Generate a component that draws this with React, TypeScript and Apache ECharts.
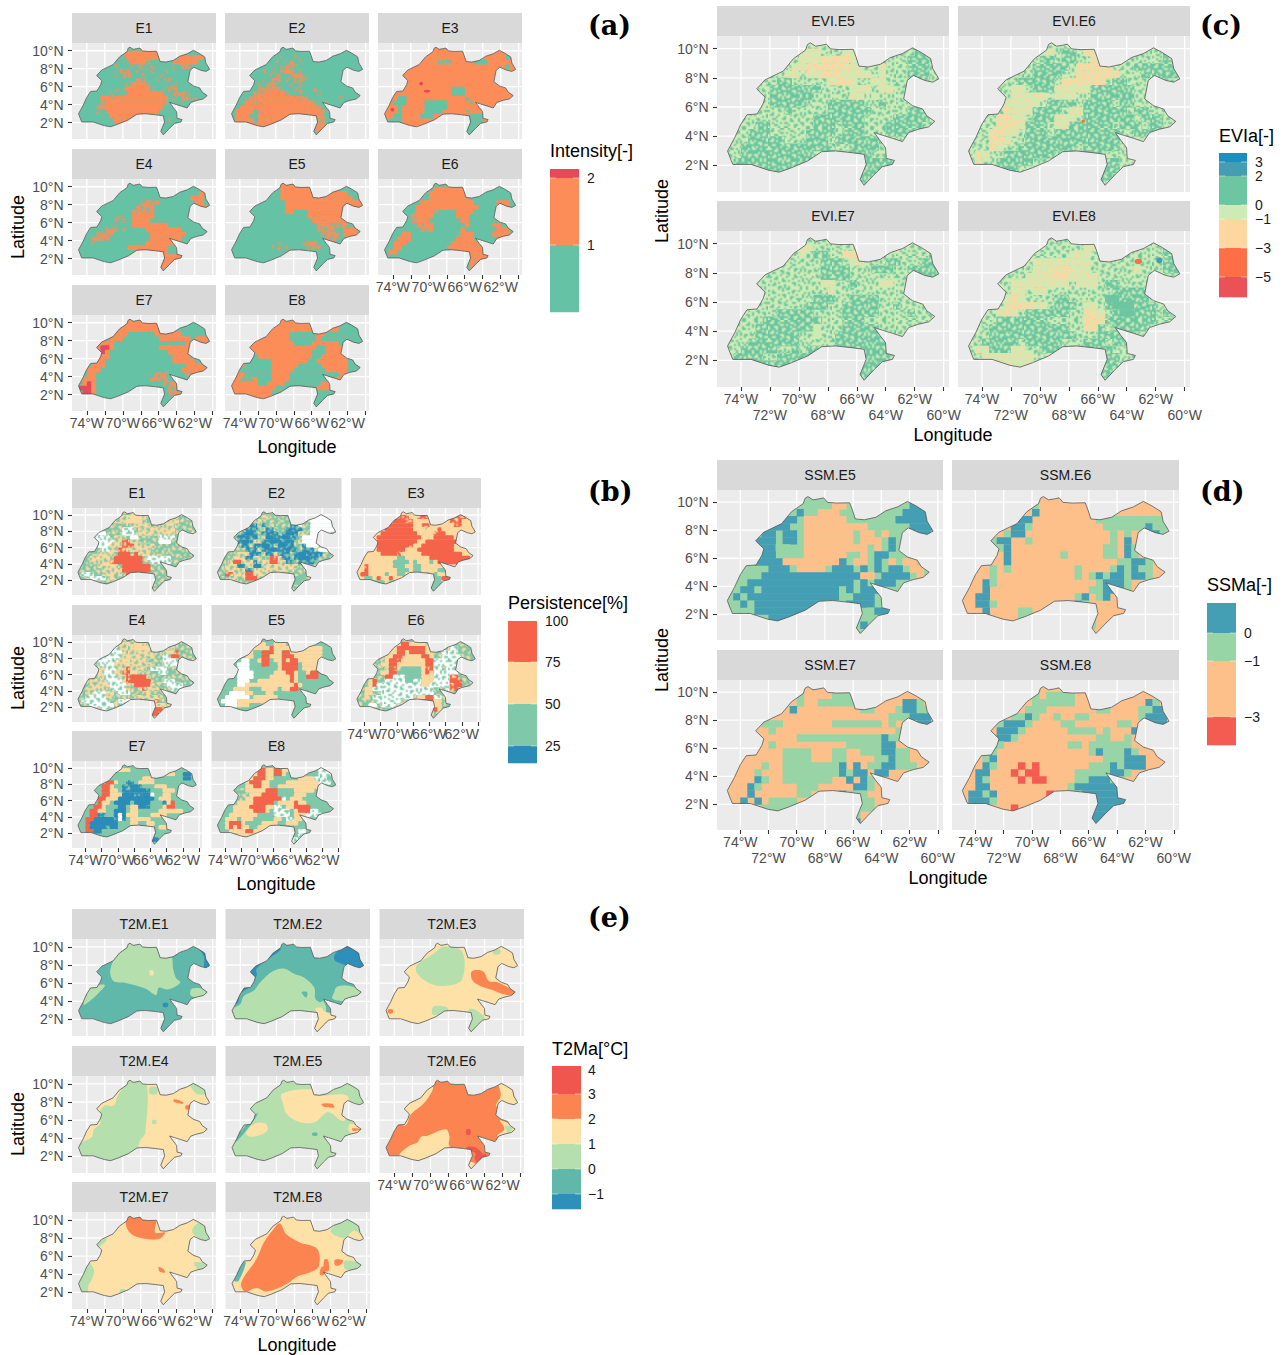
import React, { useEffect, useRef } from "react";
import * as echarts from "echarts";

const SANS = "Liberation Sans";
const LON_RANGE = [-75.65, -59.63];
const LAT_RANGE = [0.18, 10.86];
const LON_TICKS = [-74, -72, -70, -68, -66, -64, -62, -60];
const LON_LABELS_SPARSE = [-74, -70, -66, -62];
const LON_LOWER_ROW = [-72, -68, -64, -60];
const LAT_TICKS = [2, 4, 6, 8, 10];

const OUTLINE = [-69.4,10.28,-69.2,10.39,-68.84,10.16,-68.42,10.23,-68.09,10.3,-67.81,9.98,-67.17,9.93,-66.25,9.95,-66.05,9.43,-65.85,8.8,-65.21,8.74,-64.38,8.92,-63.68,9.38,-62.84,9.66,-62.15,10.05,-61.53,9.72,-60.89,9.31,-60.75,8.62,-60.33,7.93,-60.75,7.7,-61.31,7.82,-62.09,8.16,-62.51,7.82,-62.76,6.55,-62.15,6.09,-61.45,5.86,-61.17,5.4,-60.61,5.01,-61.03,4.64,-61.73,4.48,-62.42,4.25,-62.84,3.63,-63.54,3.86,-64.24,4.07,-64.79,4.25,-64.38,3.68,-64.01,3.22,-63.96,2.48,-63.4,2.34,-63.54,2.07,-64.24,1.91,-64.79,1.38,-65.49,0.64,-65.77,1.03,-65.35,2.07,-65.49,2.76,-66.33,2.87,-67.45,2.99,-68.42,2.94,-69.4,2.3,-70.51,1.84,-71.35,1.54,-72.05,1.66,-73.3,2.07,-74.56,2.07,-74.75,2.53,-74.92,2.99,-74.42,3.91,-74,4.83,-73.58,5.47,-72.88,5.52,-72.47,6.21,-72.33,6.67,-72.91,7.24,-72.33,7.86,-71.07,8.46,-70.37,9.31,-69.54,9.89];

// speckle tile, hand-typed
const TILE = [
"..#...##..#....#",".##..#.....##...","......##.#...#..","#..##......#...#",
"#...#..##...##..","..#....#...#....",".##.#.....#..##.","......##.....#..",
"..##...#.##....#","#.....#...#..#..","##..#....#...##.","...##..#....#...",
".#.....##.#....#","...#.#......##..","#.##....#....#.#",".....##.#.#.....",
];

const PAL_A: any = { G:"#66C2A5", O:"#FC8D59", R:"#E6495A", o:["#FC8D59","#66C2A5"], g:["#66C2A5","#FC8D59"] };
const PAL_B: any = { G:"#7FC8A9", P:"#FDD9A0", R:"#F4634A", B:"#2B8CB8", W:"#FFFFFF", g:["#7FC8A9","#FDD9A0"], p:["#FDD9A0","#7FC8A9"], r:["#F4634A","#FDD9A0"], b:["#2B8CB8","#7FC8A9"], w:["#FFFFFF","#7FC8A9"] };
const PAL_C: any = { G:"#6CC6A1", L:"#CDEBB5", P:"#FED6A0", g:["#6CC6A1","#CDEBB5"], l:["#CDEBB5","#6CC6A1"], p:["#FED6A0","#CDEBB5"], m:["#CDEBB5","#FED6A0"], R:"#FF6F47", T:"#459DB4" };
const PAL_D: any = { T:"#449FB5", G:"#97D5A6", P:"#FEC08B", R:"#F45B51" };
const PAL_E: any = { D:"#2E8FBB", T:"#5FB8A9", L:"#B5E0AE", P:"#FEE1A6", O:"#FC8450", R:"#F0564E" };

// ---- (a) Intensity rasters: 0.5 degree cells, row 0 = 10.5N, col 0 = 75W
const A_E1 = ["","..........OOOOOOOO","..........oOOOOOOo....OOOOOO","...........oOOOo.....oOOOOo","........g..g.gg.gg...g.oo",".........oog.g.gg..g.....g","........g.oo..g...g","...........g.oo..g.gg","..........goOOOo....gg","........g.oOOOOOg..ggo",".......g..gOOOOOOOO.gooog",".....OOoOOOOOOOOOOOO.g.oogg",".....oOOOOOOOOOOOOOo...g","....ooOOOOOOOOOOOOO","....g.oOOOOOOOOOOO",".......OOOOOOOOOO","........OOO.........g"];
const A_E2 = ["","","...........g..g","..........g.go.g",".........g.goog",".......g.g.oOo.g","........g.o..oOog",".......g.oo.g.oog","......g.oog..g.g","......oooOog..gg..gg",".....ooOOOOOgg.g...g","....oOOOOOOOOOOoo.......g","...OOoOOOOOOOOOOOOo..g","..OOOOOOOOOOOOOOOOOo",".OOOO.oOOOOOOOOOOOOOo",".OOO..OOOOOOOOOOOOOOo",".OOOO.OOOOOOOOOOOOOoo","...OOOOOOOOOOOOOOOoOo","..................oO"];
const A_E3 = ["","","...........................GG","............ggg.....GGG","...........................G","","","","","...............GGG","...............GGG","...GG.............g","..GGG....GGGGG.....g","...G.....GGGGG","...G.....GGGG.....g","..GG....GGG........GGG",".GGG..............GGGG","...................GG","..................GGG","..................GG"];
const A_E4 = ["","","...........................OO",".........................OOO","..............oooo........OO",".............oooo..........OO","............ooooo","........gg..OOOOO","........ggg.OOOO","........g...OOOOOOOO","......ooo.g....OOOOOOOO","....oooo........OOOOOOOO","...oooo.........OOOOOOO","...g...........OOOOOOO","...........OOOOOOOOO",".............OOOOOOO","..................OOOOO","...................OOOO","..................OOO","..................O"];
const A_E5 = ["...........OOOO","...........OOOOOOO","...........OOOOOOO....OOOO","...........OOOOOOOOOOOOOOOO","............OOOOOOOOOOOOOOOOO","............OOOOOOOOOOOOOOOOO","............OO...OOOOOOOOO",".................OOOOOOOOO","..................OOOOOOOO","...................ooooooo","...................oooo..OOOO","....................oooo.OOO",".....................ooo..OO","..........g.....ooo",".........gggg....ooo"];
const A_E6 = ["","...........OOOOOOO","..........OOOOOOOO","..........OOOOOOOOO","........OOOOOOOOOOOO.....OOO",".......OOOOOOOOOOOOOO.....OO",".......OOOOo....OOOO","......oOOOO.....OOO","......oOOO.......OO",".......ooOO.......O.....oO","........ooO......O.......OOO","....OO...........OOO....OOOO","...OOO..........OOOO.....OO","..OOO..........OOOOOO","..OO..........oOOOOOOO",".OO..............OOOOOO","...................OOOO","...................OoOO","...................OO"];
const A_E7 = ["...........OOO","..........OOOOOOOO",".........OOOOOOOOO",".......OOOO......OOOOOO",".......OOO........OOOOOOO.OOO","....OOOO................OO..OO","....ORRO..........OOOOOOO","....ORO.............OOOOO","....OOO..............OOOO","...OOO...............OOOOO","...OOO..................OOOO","..OOO..................OOOOOO","..OO...........g.ooo....oo",".OOO............oooo",".ORO...............ooo","RRRO................oo",".RRO................ooo"];
const A_E8 = ["","........................GGGGG","........................GGGGG",".............GGGGGG..GGGGGGGG",".............GGGGGG.GGGGGGGGG","..............GGGG......GGGGGGG","...................GG.....GGGG","..................GGG.....GG",".....G............GG......G","....GGGGG........GG.......GG","...GGGGGG......GGGGG......GGGG","..GGGGGGG.....GGGGGGG.....GGGG","...GGGGGG....GGGGGGGGGGG","..ggg.GGG....GGGGGGGGGG","......GG....GGGGGGGG","..........GGGGGGGGG",".........GG.......GGGGG","..................GGGGG","..................GGG","..................GG"];

// ---- (b) Persistence rasters
const B_E1 = ["","..........pppPPPp","........ppppPPPPp...ppppp","........gg...ppppp..pppp",".......ggg.www.ppppppppp",".....WW....www.ppppppppp","....wwww.ppp.WW.....wwww","....wwwwwpprrpp.....WWW",".....wwwppprrrppppp","......wwpprrpppppp",".....pppp.RRR.Rpppp","...ppppp.RRRRRRR.wwwwww","...ppppprRRRRRRR..wwwww",".....ppppp.RRRRRRR","......pppppRRRRRRR",".www...pppp.RRRRR","...wwww.pp"];
const B_E2 = ["","...........pp..........WWWWWW",".........pp.......bb...WWWWWW","........bbpb.p....bbw..WWWWWW",".......bbb.pbbp..bbbb..WWWWWW","......bBBb.bbbb.bBBbpp.WWWWW",".....bbBbb.pBBbbBBbb.WWWW",".....bBBbppbbBBbbBb.pWWWW","......bbpbbBBbpBBbb..bWWW",".......bbbpbbBBbbBbb.bbb.WWW",".....pppbbbpbbpbbb.bBBbbbb","....pppbbpp.pRrpbb.bBBBbb","...pRRpppbpppRRppbb.bbbb","..pppbbppBBppppppppp","..pppppbbpppppppppp","..rrpp.RRppppppppG","...pp..RRRp........GG","...........P......GGG"];
const B_E3 = ["","..........rrrPPrrr.....rrrr",".........RRRrrPPPP....PrrrP","........RRRRRRPPrr..PPPPrrP",".......RRRRRRRPPPpP.RPPPPPP","......RRRRRRRRRPPPPrRRPPPPP",".....RRRRRRRRRRRPPPRRRRRPPP",".....RRRRRRRRRRPPRRRRRRRR",".....RRRRRRRRrPPRRRRRRRR",".....RRRRRRRPPPRRRRRRRRR","....PPRRRRrPPPPPRRRRRRRRRR","...PPPPPPPGGPPPPPPRRRRRRRRRR","...PPPPPPGGGGPGPPPGPRRRRRRRRR","..rPPPPPPGGGPPGGPPPPPP","..RPPPPPPPGGGPGGPPPPGGP",".RRPPPPGPPGGPPPGPGPGP","..GGPRPPRPPPPRPPPPGGGRR","...GGGGPGGGGGGGGGGGGG","..................GGG","..................GG"];
const B_E4 = ["",".........pppppPPp",".......wwwppppPPPP.....p","......wwwwwpppppppp..pppr",".....wwwwwwpPpppppp..wwRR",".....wwwwwppPpppp....wwwwR",".....wwwwpppppppppp..wwww","....wppwwwpprpppp.wwww","....ppwwwpprrpp.....ww",".....ppwwwpprRRRRp","...ppppwwwwprRRRRR...www","...pppppwwwwp.RRRRp...wwww","..ppppp.wwwwp..prppp...www","..ppwwwpp.www...pp","..wwwwwpp.....ppppppp",".wwwwwww..wwwwpppppr","...wwwwww..........ppp","......ww...........RRr","..................RR"];
const B_E5 = ["","..........PP..PPP","........PPPPPRPPPPP...PPPP",".......PPGGRRRPPRRPPPPPPPP",".......PP.GRRPPPRRRPPPPPPP","......WW..PRRGPPRPRRPPPPPP",".....WWW...RRGGPRRRRGPPPP",".....WWW....GGGPRRRRGPPPP",".....WWWW...GGPPPRRPGGPRR",".....WWWW....PPPPPRPGGRRR",".....WWW..PPPPPPPPRPGG",".....WWPPPPPPPPPPPPRP","....PPPPGGGPPPPGPPRR","...WWWWPPGGGPPGGG","..WWWWWW.PPPPPPG",".WWWWPPPPPPPP","..WWWPPPGGG","......GG"];
const B_E6 = ["","..........PRRPPPP",".........PRRRRRRRP.....ww","........PPRRPRRRRPP..wwww",".......PPRRrPPPPRRP..wwwww","......pPRRrPPPPPPRRwwwwwww","......pPRRPPPPPPPRRwwwwww",".......pRrpGGGGGPrRww.wwww","......PPRRGGGGGGPrPwwwwww",".......RRwwwGGGGPPPwwwwrr","...PR..wwwwwGGwwPPPwwwwRRr","...PRwwwwwwwwwwwPPwwwwwrRR","..PPwwwwwwwwwwwwwww...wrr","..PP..wwwwwwwwwwwww","..P.wwwwwwwwww.PPRRww",".....wwwwww.....RRRPP","...WW.wwww......PRRPP","..................PRP","..................P"];
const B_E7 = ["",".........PPPP...............",".........GGGGGGG....PPPP..BB",".......GGGGGGGG.PPPGGGGGGGBB",".......RRPGGbbGPPPPGGGGG","......RRPGGbbBBbGGGPPP.GG","......RRPPGbbBBBBbGGGPPP","......RRPPPBBBbbBBWGGPP",".....RRPPPBBBBBBBBBGPPP",".....RPPGBBBBGBBBBGGGbPR","....RRPGGGBBGPPBBbGGGPRR","...RRPPGGBBBGPPGGGGGPPPPPP","...RRbbGGBWBPPPGGGPPPP","..RRBBBBBbWbGPPPPP..","..RBBBBBBBGGGPPGGPP","..RBBBBbBBGGGGGGGPPGPP","..RRBBGGGGGGGGGGGGPG","......GGG.........BG","..................BB"];
const B_E8 = ["","..........RRPPRRPPP......www",".........PRRPPRRPGGG.....www","........PRRRPPGGGGGGPPPPwww",".......PRRRPPGGGGPPPPPPPPwww",".......PPRRPPGGPPPPPPPPPPP",".....ggPPPPPRRRGGGGPPPPP",".....gggPPPRRRRGGGGPPP",".....ggPPRRRRRRRwGPPP",".....PPPPRRRRRGPPPPRPP","....PPPPRRRRPPwwGPPRRRR","....PPPPPRRRPGwwwwGPRRRww","...PPPPPPPGGGGwwwwGPPPwwww","..PPPGPPPGGGGGPPGwwPP","..PRRRPGGGGPPPPGGPPP","..PRPRPPGGPPPPPGGG","...PPPPRRPPPG.....GGww",".....PPPPP........GGw","..................ww","..................w"];

// ---- (c) EVI rasters
const C_E5 = ["","..........mmm...mmmm......gg","..........mmmppppmm......ggg",".........mmppppppmm..m...ggg","........mm.mmpppmmmm.m.l.ggg",".......gg.....mppm..mm...ggg","......ggggggg....mmm.mm...gg","......gggggg.....mm.m","......ggggg...ggggg..g","........g.....gggggg.....ggg",".....l......ggggggg....ggggg","....gg......ggg.ggg...ggggg","...ggg.....gggg.ggg...gggg","...ggggg...ggg.gggggg","..ggggggggggggg..gggg","..gggggggggg...ggggg",".ggggggggggg......gggggg","...gggggg.........ggggg","..................ggg","..................gg"];
const C_E6 = ["","..........mm.gg.pppp.......gg","..........gg.gg..ppp.......ggg",".........ggggg.ppppp...ggggggg",".........gggg..pppppp...gggggg",".......ggggg.pppppp.gg.......g","......mm.gggmmmmmgggggg","......mmmmm.mmm..gggggg",".....mmmmm.gggg.gggg.gg",".....pmmmgggg.mmgggggg.gg","....ppmm.gggmmm.ggggggg.ggg","....pppmggg.mmgggggg.ggg.gg","...ppmm.ggg.ggggggggg..ggg","...ppm..gggggggggggggg","...pm..gggggggg.ggggg",".pm..ggggggg...gggg.",".p..ggggg........gggg","...gggg...........ggg","..................gg","..................g"];
const C_E7 = ["","..........mm..........","..........m.gg..ppp.........g",".............ggg.mm...gg...gg",".............gggg...ggg..gggg",".............gggg.........ggg",".............mm..g...mm...ggg","..............m..........g","............ggg..gggg.","...........ggg..ggggg..g",".......ggggg....ggggg....g",".....gggggggg...ggg..","....ggggggggL...ggggg","....gggggg..L..ggggggg","...ggggggg.....gggggggg","..ggggg..g.gg...ggggggggg",".gggg..gggggg.....ggggg","..ggggggg.........ggggg","..................gggg","..................gg"];
const C_E8 = ["","................mm.........gg","..............mmm..........ggg",".........mmmmmmmm..........ggg",".........mmmppmmm......m...ggg","........mmmpppmmmm...","......mmmmmmmm.mmm.gg...","......mm.mm.........ggggg",".....mpm....gg.....GGgggg",".....mpppmm.ggg.mm.gGGGggg","....mpm.gggggg..ppm.gGGggg.g","....ggggggg.....pppggggggg","...ggggggggggg..ppg.ggggg","...gggggggggggg...ggggg","..ggggg.ggggg...ggg.gg",".mmgggmm..ggg.gggggg","..mmmmmmm..m......ggg","....mmmmm.........ggg","..................gg","..................gg"];
const C_E8_DOTS: any[] = [["R",[-63.4,8.9,-63,8.9,-63,8.65,-63.4,8.65]],["T",[-61.9,9,-61.6,9,-61.6,8.7,-61.9,8.7]]];
const C_E6_DOTS: any[] = [["R",[-67.1,5.1,-66.9,5.1,-66.9,4.95,-67.1,4.95]]];
const A_E3_DOTS: any[] = [["R",[-71,6.5,-70.7,6.5,-70.7,6.2,-71,6.2]],["R",[-70.5,5.6,-69.9,5.6,-69.9,5.4,-70.5,5.4]],["R",[-74.2,3.6,-73.9,3.6,-73.9,3.3,-74.2,3.3]]];

// ---- (d) SSM rasters
const D_E5 = ["","...........GGG.PP.........TTT","..........TG.PPP......G..TTTTT","........TT.PPPPPP.......TTTTT","......TTT..PPPPPPPPP..GG..TTTT",".....TT.TT.PPPPPPP.PP.P...TTT","....TTT.TT.PPPPPPP.PPP.T","....TTTGG..PPPPPPPPP.P.T.","...G.TT....PPPPPP..P.TT","....TTTTPPPPPPPPT.PP.T.P.PP","......TTTGPPPP.TTT.T.T.TT.PP",".....TTTTTTTTTTTTTTPP.TTTT.P","...TTTTTTTTTTTTTTT.T.TTT","..TTGTTTTTTTTTTTGT.TTT",".TGTTTTTTTTTTTTTGGTTT.",".GTGTTTTTTTTTTGGGTTTT","...GTTTTTTTTTG....G.GTT","......TTTTT.......GG","..................GT","..................G"];
const D_E6 = ["","..........GP.....","..........T.","........TT.........GGGGGGGGGG",".......TTG..........GGGGGGTGG","......GTT............G.G.GTTG","....GTT..G...........G.T","....GGT.............GG.TG","......T.......G.....GG.TG","......T...............GGTTG","....G.G.........G....GTGTGG","....G...........G.GTGTTGTTG","...TG..............GTTTG","...T..............GGTTTG","..TT............GT.GT","..TTG...........TG","...T....GG......","........G.........G","..................G"];
const D_E7 = ["","..........G....GGG","..........G..GGGGG.......TTG",".........T.........GG...GTTGG",".......................GGGTTT",".....GGG.......GGGGGGG.G.GGTT","......G.................G","..........GGGGGGGGGGGGTGG","......G..........GGGGGTT","........GGGG...GG..GGGTTGG","........GGGG...GG....GGTGG",".....G..GGGGGGGGT.T.GGTTGGG","....G...GGGGGGGGTGTT.TT..","....TG..GGGGGGG..T.TG","...TG.....GGG.....TTG","...T......GG....TGGG","..T.T.GGGG.........GG",".....GGGGG.........GG","..................G","..................T"];
const D_E8 = ["","..........G.GGGG","..........GGGGGG..........TG",".........GGG.......GG....GGTT",".......GGTG..G..GG.......GTTT",".....GTTTG....GG......GG..TTT",".....TTTG......GGGG.G...TT.","....GTTG...........GG..G","....TG.........GG.GGGGGG","...GG.............GTGGGTG","...GT...............GGGTTT","...TG...R.R.......GGGTGTTT","..TT...R.RR.....GGGGGTTG","..TG....R.RR....GGTTTGG","..TT...........GTTTTTTT",".TTGT.......R..GGTTTTTTG",".TTTG.........G.TTTTTTTT","...G...R..........TTTTTT","..................TTTT","..................TT"];

// ---- (e) T2M polygons (fill key, lon, lat, lon, lat ...)
const E_E1: any[] = [["L",[-71,6.2,-71.4,7.4,-70.6,9.3,-69.6,10.5,-66,10.2,-65.6,8.8,-64.6,8.9,-64.4,7.6,-64.1,6.6,-63.6,6.05,-65,5.3,-66,5.5,-66.3,4.7,-67.5,5.4,-69.8,6.05]],["L",[-72,5.8,-72.6,5,-74.3,3.6,-74.1,4.6,-73.4,5.6]],["L",[-62.3,5.4,-60.5,5.2,-61,4.5,-62.4,4.6]],["D",[-61.9,10.2,-60.9,9.5,-60.3,7.8,-60.9,7.6,-61,9]],["P",[-67,7.4,-66.6,7.4,-66.6,6.9,-67,6.9]],["D",[-65.5,3.8,-65,3.8,-65,3.4,-65.5,3.4]]];
const E_E2: any[] = [["D",[-63.6,9,-62.3,10.2,-60.3,9.5,-60.3,7.6,-62,7.9,-63.4,8.4]],["D",[-72.6,7.7,-70.5,9.4,-69.6,9.9,-69.6,9.6,-71,8.6,-72.2,7.6,-72.2,6.8,-73,5.6,-74,4.8,-74.3,3.8,-75,3.8,-74,5,-73,6.5]],["L",[-75,3,-74,3.7,-73.6,4.6,-72.5,5.2,-71.7,6.2,-70.4,7.3,-69.2,7.6,-68,7,-66.9,6.6,-65.8,5.5,-65.7,4.3,-65.2,3.9,-64.8,4,-64.5,3,-65.5,0.5,-75,1]],["P",[-65.7,3.2,-65,3.3,-64.7,2.9,-63.2,2.4,-64.5,1.5,-66,0.5,-65.6,2.1,-65.4,2.6]],["L",[-63.3,5.6,-62,5.7,-60.4,5,-61,4.4,-62.4,4,-63.8,4.3,-63.6,5]],["T",[-67.2,5,-66.6,5,-66.7,4.4]]];
const E_E3: any[] = [["L",[-68.5,10,-66.5,9.5,-66.5,6.4,-68.3,5.7,-70.1,6,-71.5,7.1,-71.5,8,-69.7,9.2]],["O",[-65.4,7.3,-64.2,7.3,-63.5,6.2,-62.6,6.1,-60.4,4.9,-61.5,4.7,-63.3,5.3,-64.7,5.8,-65.4,6.4]],["O",[-74.7,3.1,-74.2,3.1,-74.2,2.7,-74.7,2.7]],["L",[-65.6,3.2,-64.2,2.5,-64,1.9,-65.2,0.5,-66,0.8,-65.9,2.4]],["L",[-69.7,3.4,-68.3,3.4,-68,3,-69.7,2.5]],["L",[-63,9.7,-62.3,9.7,-62.3,9.2,-63,9.2]]];
const E_E4: any[] = [["L",[-67.5,10.5,-67.5,4.6,-68.1,3.7,-68.3,3,-68.6,2,-75.5,1,-75.5,3,-74,3.8,-73.4,4.2,-73.2,5,-72.5,5.6,-72.6,6.8,-72,7.6,-71,7.6,-70.6,8.6,-70,9.6,-69.6,10.5]],["L",[-67,9.6,-66.2,9.6,-66.2,8.9,-67,8.9]],["L",[-62.6,10.2,-61.5,10,-60.6,9,-61.8,8.9]],["O",[-64.3,8.3,-63.3,8,-63.3,7.8,-64.3,8]],["O",[-63,7.6,-62.5,7.6,-62.5,7.2,-63,7.2]],["L",[-66.7,6,-66.3,6,-66.3,5.6,-66.7,5.6]]];
const E_E5: any[] = [["P",[-69.4,8.9,-66.2,9.4,-65.7,8.7,-62.2,8.7,-62.1,6.9,-62.6,5.9,-64.3,6.9,-65.7,5.8,-67.5,5.8,-68.9,6.7,-69.2,7.6]],["P",[-73.4,4.6,-72.4,5.6,-71.2,5.6,-71,4.9,-72,4.3,-73,4.2]],["P",[-61.8,5.6,-60.5,5,-61.4,4.5,-62,4.9]],["O",[-61.6,5.1,-60.5,5,-61.5,4.8]],["O",[-65,7.8,-63.8,7.8,-63.6,7.4,-64.8,7.5]],["T",[-72.6,6.4,-72,6.8,-73,5.3,-74.5,3.6,-74.7,3.8,-73.6,5.2]],["T",[-66,4.6,-65.5,4.6,-65.5,4.3,-66,4.3]]];
const E_E6: any[] = [["P",[-62.4,10.3,-60,9.5,-60,7.5,-62.7,7.5,-62.2,8.7]],["P",[-72.8,7.4,-71.2,8.5,-70.6,9.5,-69.7,9.6,-70.6,8,-72.2,6.6,-72.6,5.6,-73,5.4]],["P",[-62.3,6,-60.4,5,-61.5,4.2,-62.6,4.3,-61.8,5]],["L",[-61.7,5.4,-60.9,5.1,-61.4,4.6]],["P",[-70.4,4.26,-68.3,5,-67.9,4.26,-67.9,3.15,-66.5,2.2,-65.6,1.3,-72.4,1.3,-73.5,2,-72.4,3.15,-71.5,3.5,-71,4.2]],["R",[-66,3,-65,3,-64.2,2.2,-64.5,1.7,-65.2,2.5,-65.8,2.5]],["R",[-65,2.2,-63.8,2.2,-64.5,1.2,-65,1.5]],["P",[-66,1.4,-65,1.2,-65.4,0.5,-66,0.8]],["R",[-66,5,-65.6,5,-65.6,4.4,-66,4.4]]];
const E_E7: any[] = [["O",[-69.5,10.5,-66.4,10,-66.4,8.6,-65.3,8.6,-66,7.9,-68.4,8.1,-69.5,9]],["L",[-62.3,8.8,-61.4,9.7,-60.4,8.5,-60.3,7.3,-61.6,8]],["L",[-72.8,6.9,-71.7,7.9,-72.3,7.8,-73,7.1]],["L",[-75,2.8,-73.9,5.3,-73.2,4.5,-73.4,3.5,-73.8,2.8,-74,1.8]],["L",[-62.1,5.3,-60.5,5.1,-61.3,4.3]],["O",[-66,4.8,-65.5,4.6,-65.3,4.2,-65.9,4.3]],["L",[-70.3,2.3,-69.7,2.3,-69.7,1.8,-70.3,1.8]]];
const E_E8: any[] = [["O",[-69.6,9.6,-68.9,8.4,-67.4,7.5,-65.5,6.8,-65.3,4.9,-66.3,4.2,-67.6,3.8,-68.9,2.9,-71.1,2.1,-72.2,2.5,-73.5,2.1,-73.9,3.1,-72.2,5.7,-71.4,7.5,-70.3,9]],["L",[-64,8.8,-62.2,10.2,-60.5,9.5,-60.4,8.3,-61.4,8.8,-62.5,8]],["L",[-62.4,5.5,-60.5,5.1,-61.3,4.4,-62.4,4.6]],["T",[-73.9,5.3,-73.4,5.3,-74.2,3.3,-74.7,3.3]],["O",[-64.7,5.6,-64.3,5.6,-64.2,4.4,-64.7,4.4]],["O",[-63.5,5.6,-62.6,5.5,-63,5,-63.5,5]],["O",[-65,4.8,-64.5,4.8,-64.8,3.9,-65.2,4]]];

// legend values
const LEG_A = { title:"Intensity[-]", colors:["#E6495A","#FC8D59","#66C2A5"], labels:["2","1"] };
const LEG_B = { title:"Persistence[%]", colors:["#F4634A","#FDD9A0","#7FC8A9","#2B8CB8"], labels:["100","75","50","25"] };
const LEG_C = { title:"EVIa[-]", colors:["#1C8FBF","#459DB4","#6CC6A1","#CDEBB5","#FED6A0","#FF6F47","#EB5257"], labels:["3","2","0","\u22121","\u22123","\u22125"] };
const LEG_D = { title:"SSMa[-]", colors:["#449FB5","#97D5A6","#FEC08B","#F45B51"], labels:["0","\u22121","\u22123"] };
const LEG_E = { title:"T2Ma[\u00b0C]", colors:["#F0564E","#FC8450","#FEE1A6","#B5E0AE","#5FB8A9","#2E8FBB"], labels:["4","3","2","1","0","\u22121"] };

const GROUPS: any[] = [
  { tag:"(a)", tagX:588, tagY:25, pal:PAL_A, r:1.5, xs:[[72,216],[225,369],[378,522]], ys:[[13,43,139],[149,179,275],[285,315,411]],
    panels:[["E1","G",A_E1],["E2","G",A_E2],["E3","O",A_E3,A_E3_DOTS],["E4","G",A_E4],["E5","G",A_E5],["E6","G",A_E6],["E7","G",A_E7],["E8","O",A_E8]],
    lonX:297, lonY:447, latX:18, latY:227, leg:LEG_A, legX:550, legW:29, legTitleY:151, stops:[169,178,245,312], labelYs:[178,245], labelX:587 },
  { tag:"(b)", tagX:588, tagY:491, pal:PAL_B, r:1.5, xs:[[72,202],[211.5,341.5],[351,481]], ys:[[478,508,595],[605,635,722],[731,761,848]],
    panels:[["E1","g",B_E1],["E2","g",B_E2],["E3","P",B_E3],["E4","g",B_E4],["E5","G",B_E5],["E6","g",B_E6],["E7","G",B_E7],["E8","G",B_E8]],
    lonX:276, lonY:884, latX:18, latY:678, leg:LEG_B, legX:508, legW:29, legTitleY:603, stops:[621,662,704,746,763], labelYs:[621,662,704,746], labelX:545 },
  { tag:"(c)", tagX:1200, tagY:25, pal:PAL_C, r:1.5, dodge:true, xs:[[717,949],[958,1190]], ys:[[6,36,192],[201,231,387]],
    panels:[["EVI.E5","l",C_E5],["EVI.E6","l",C_E6,C_E6_DOTS],["EVI.E7","l",C_E7],["EVI.E8","l",C_E8,C_E8_DOTS]],
    lonX:953, lonY:435, latX:662, latY:211, leg:LEG_C, legX:1219, legW:28, legTitleY:136, stops:[153,162,176,205,219,248,277,297], labelYs:[162,176,205,219,248,277], labelX:1255 },
  { tag:"(d)", tagX:1200, tagY:491, pal:PAL_D, r:0, dodge:true, xs:[[717,943],[952,1179]], ys:[[460,490,640],[650,680,830]],
    panels:[["SSM.E5","G",D_E5],["SSM.E6","P",D_E6],["SSM.E7","P",D_E7],["SSM.E8","P",D_E8]],
    lonX:948, lonY:878, latX:662, latY:660, leg:LEG_D, legX:1207, legW:29, legTitleY:585, stops:[603,633,661,717,745], labelYs:[633,661,717], labelX:1244 },
  { tag:"(e)", tagX:588, tagY:917, pal:PAL_E, smooth:0.35, xs:[[72,216],[225.5,370],[379.5,524]], ys:[[909,939,1036],[1046,1076,1173],[1182,1212,1309]],
    panels:[["T2M.E1","T",E_E1],["T2M.E2","T",E_E2],["T2M.E3","P",E_E3],["T2M.E4","P",E_E4],["T2M.E5","L",E_E5],["T2M.E6","O",E_E6],["T2M.E7","P",E_E7],["T2M.E8","P",E_E8]],
    lonX:297, lonY:1345, latX:18, latY:1124, leg:LEG_E, legX:552, legW:29, legTitleY:1049, stops:[1066,1094,1119,1144,1169,1194,1209], labelYs:[1070,1094,1119,1144,1169,1194], labelX:588 },
];

// 32x32 mask from the tile and turned copies of it
function bigMask() {
  const n = TILE.length;
  const at = (x: number, y: number) => TILE[y][x] === "#";
  const m: boolean[][] = [];
  for (let y = 0; y < n * 2; y++) {
    m.push([]);
    for (let x = 0; x < n * 2; x++) {
      const qx = x % n, qy = y % n;
      if (y < n && x < n) m[y].push(at(qx, qy));
      else if (y < n) m[y].push(at(qy, qx));
      else if (x < n) m[y].push(at(n - 1 - qx, n - 1 - qy));
      else m[y].push(at(n - 1 - qy, qx));
    }
  }
  return m;
}
const tileCache: any = {};
function fillOf(v: any) {
  if (typeof v === "string") return v;
  const key = v.join("|");
  if (!tileCache[key]) {
    const mask = bigMask(), n = mask.length, s = 2;
    const small = document.createElement("canvas");
    small.width = small.height = n;
    const sc = small.getContext("2d")!;
    sc.fillStyle = v[0];
    sc.fillRect(0, 0, n, n);
    sc.fillStyle = v[1];
    mask.forEach((r, y) => r.forEach((on, x) => { if (on) sc.fillRect(x, y, 1, 1); }));
    const c = document.createElement("canvas");
    c.width = c.height = n * s;
    const ctx = c.getContext("2d")!;
    ctx.imageSmoothingEnabled = true;
    ctx.imageSmoothingQuality = "high";
    ctx.drawImage(small, 0, 0, n * s, n * s);
    tileCache[key] = { image: c.toDataURL(), repeat: "repeat", imageWidth: n * s, imageHeight: n * s };
  }
  return tileCache[key];
}
function pairs(a: number[]) { const o: number[][] = []; for (let i = 0; i < a.length; i += 2) o.push([a[i], a[i + 1]]); return o; }

const fmtLon = (v: number) => `${Math.abs(v)}\u00b0W`;

function makeRender(g: any, base: string, content: any[], extra: any[] | undefined, showX: boolean) {
  const pal = g.pal;
  return (_p: any, api: any) => {
    const c = (lon: number, lat: number) => api.coord([lon, lat]);
    const grid: any[] = [];
    const tl = c(LON_RANGE[0], LAT_RANGE[1]), br = c(LON_RANGE[1], LAT_RANGE[0]);
    LON_TICKS.forEach((l) => { const x = c(l, 5)[0]; grid.push({ type:"line", shape:{ x1:x, y1:tl[1], x2:x, y2:br[1] }, style:{ stroke:"#fff", lineWidth:1.3 } }); });
    LAT_TICKS.forEach((l) => { const y = c(-70, l)[1]; grid.push({ type:"line", shape:{ x1:tl[0], y1:y, x2:br[0], y2:y }, style:{ stroke:"#fff", lineWidth:1.3 } }); });
    const pts = pairs(OUTLINE).map((p) => c(p[0], p[1]));
    const inner: any[] = [{ type:"polygon", shape:{ points:pts }, style:{ fill:fillOf(pal[base]) } }];
    const polys = (list: any[], smooth?: number) => list.forEach((poly: any) => inner.push({ type:"polygon", shape:{ points:pairs(poly[1]).map((p) => c(p[0], p[1])), smooth:smooth || 0 }, style:{ fill:fillOf(pal[poly[0]]) } }));
    if (content.length && Array.isArray(content[0])) {
      polys(content, g.smooth);
    } else {
      (content as string[]).forEach((row, j) => {
        let i = 0;
        while (i < row.length) {
          const ch = row[i];
          let k = i + 1;
          while (k < row.length && row[k] === ch) k++;
          if (ch !== "." && pal[ch]) {
            const a = c(-75 + i * 0.5, 10.5 - j * 0.5), b = c(-75 + k * 0.5, 10 - j * 0.5);
            inner.push({ type:"rect", shape:{ x:a[0], y:a[1], width:b[0] - a[0] + 0.4, height:b[1] - a[1] + 0.4, r:g.r || 0 }, style:{ fill:fillOf(pal[ch]) } });
          }
          i = k;
        }
      });
    }
    if (extra) polys(extra, 0.5);
    // x tick labels are drawn here: the axis would drop the ones that touch, and the reference keeps them
    const labels: any[] = !showX ? [] : (g.dodge ? LON_TICKS : LON_LABELS_SPARSE).map((l) => ({
      type:"text", x:c(l, 5)[0], y:br[1] + 5 + (g.dodge && LON_LOWER_ROW.includes(l) ? 15.5 : 0),
      style:{ text:fmtLon(l), fontSize:14, fontFamily:SANS, fill:"#4d4d4d", align:"center", textAlign:"center", verticalAlign:"top", textVerticalAlign:"top" },
    }));
    return { type:"group", children:[
      ...grid,
      { type:"group", clipPath:{ type:"polygon", shape:{ points:pts } }, children:inner },
      { type:"polygon", shape:{ points:pts }, style:{ fill:"none", stroke:"#555", lineWidth:0.8 } },
      ...labels,
    ] };
  };
}

function buildOption() {
  const grids: any[] = [], xAxes: any[] = [], yAxes: any[] = [], series: any[] = [], graphic: any[] = [];
  const text = (x: number, y: number, t: string, size: number, extra: any = {}, fill = "#1a1a1a") => ({ type:"text", x, y, style:{ text:t, fontSize:size, fontFamily:SANS, fill, textAlign:"left", textVerticalAlign:"middle", ...extra } });
  GROUPS.forEach((g) => {
    const nCol = g.xs.length;
    const n = g.panels.length;
    g.panels.forEach((p: any, idx: number) => {
      const col = idx % nCol, row = Math.floor(idx / nCol);
      const [x0, x1] = g.xs[col];
      const [sTop, pTop, pBot] = g.ys[row];
      const showX = idx + nCol >= n;
      const showY = col === 0;
      const ai = grids.length;
      grids.push({ left:x0, top:pTop, width:x1 - x0, height:pBot - pTop, show:true, backgroundColor:"#EBEBEB", borderWidth:0, containLabel:false });
      xAxes.push({
        type:"value", gridIndex:ai, min:LON_RANGE[0], max:LON_RANGE[1], splitLine:{ show:false }, axisLine:{ show:false },
        axisTick:{ show:showX, length:4, lineStyle:{ color:"#333", width:1.1 }, customValues:LON_TICKS },
        axisLabel:{ show:false },
      });
      yAxes.push({
        type:"value", gridIndex:ai, min:LAT_RANGE[0], max:LAT_RANGE[1], splitLine:{ show:false }, axisLine:{ show:false },
        axisTick:{ show:showY, length:4, lineStyle:{ color:"#333", width:1.1 }, customValues:LAT_TICKS },
        axisLabel:{ show:showY, color:"#4d4d4d", fontSize:14, fontFamily:SANS, margin:8.5, hideOverlap:false, customValues:LAT_TICKS, formatter:(v: number) => `${v}\u00b0N` },
      });
      series.push({ type:"custom", coordinateSystem:"cartesian2d", xAxisIndex:ai, yAxisIndex:ai, silent:true, clip:false, data:[[-70, 5]], encode:{ x:0, y:1 }, renderItem:makeRender(g, p[1], p[2], p[3], showX) });
      graphic.push({ type:"rect", shape:{ x:x0, y:sTop, width:x1 - x0, height:pTop - sTop }, style:{ fill:"#D9D9D9" } });
      graphic.push(text((x0 + x1) / 2, (sTop + pTop) / 2 - 0.5, p[0], 14, { textAlign:"center" }));
    });
    graphic.push(text(g.lonX, g.lonY, "Longitude", 18, { textAlign:"center" }, "#000"));
    graphic.push({ type:"text", x:g.latX, y:g.latY, rotation:Math.PI / 2, style:{ text:"Latitude", fontSize:18, fontFamily:SANS, fill:"#000", textAlign:"center", textVerticalAlign:"middle" } });
    graphic.push({ type:"text", x:g.tagX, y:g.tagY, style:{ text:g.tag, fontSize:27, fontWeight:"bold", fontFamily:"DejaVu Serif", fill:"#000", textAlign:"left", textVerticalAlign:"middle" } });
    graphic.push(text(g.legX, g.legTitleY, g.leg.title, 18, {}, "#000"));
    g.leg.colors.forEach((col: string, i: number) => {
      graphic.push({ type:"rect", shape:{ x:g.legX, y:g.stops[i], width:g.legW, height:g.stops[i + 1] - g.stops[i] + 0.3 }, style:{ fill:col } });
      if (i > 0) {
        [[g.legX, g.legX + 6], [g.legX + g.legW - 6, g.legX + g.legW]].forEach((s) => graphic.push({ type:"line", shape:{ x1:s[0], y1:g.stops[i], x2:s[1], y2:g.stops[i] }, style:{ stroke:"#fff", lineWidth:0.6, opacity:0.8 } }));
      }
    });
    g.leg.labels.forEach((l: string, i: number) => graphic.push(text(g.labelX, g.labelYs[i], l, 14)));
  });
  return { animation:false, backgroundColor:"#fff", grid:grids, xAxis:xAxes, yAxis:yAxes, series, graphic };
}

export default function App() {
  const ref = useRef<HTMLDivElement>(null);
  useEffect(() => {
    const chart = echarts.init(ref.current!, null, { renderer:"svg" });
    chart.setOption(buildOption() as any);
    return () => chart.dispose();
  }, []);
  return <div ref={ref} style={{ position:"absolute", left:0, top:0, width:1283, height:1355 }} />;
}
